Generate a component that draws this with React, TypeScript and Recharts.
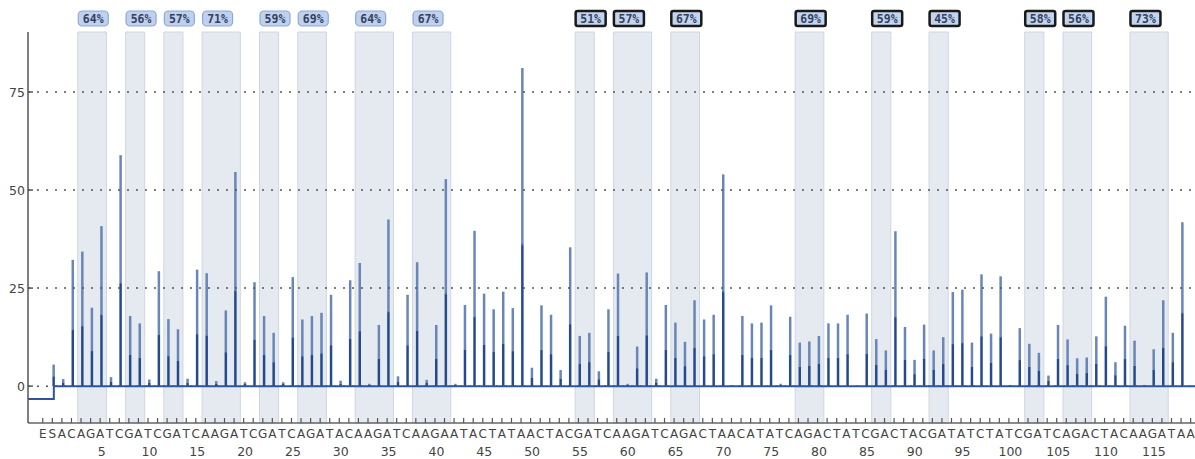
import { ComposedChart, Bar, Line, XAxis, YAxis, ReferenceArea, ReferenceLine } from 'recharts';

// dispensation order: E, S, then 119 nucleotide dispensations
const dispensationLetters = [
  'E', 'S',
  ...'ACAGATCGAT'.split(''),
  ...'CGATCAAGAT'.split(''),
  ...'CGATCAGATA'.split(''),
  ...'CAAGATCAAG'.split(''),
  ...'AATACTATAA'.split(''),
  ...'CTACGATCAA'.split(''),
  ...'GATCAGACTA'.split(''),
  ...'ACATATCAGA'.split(''),
  ...'CTATCGACTA'.split(''),
  ...'CGATATCTAT'.split(''),
  ...'CGATCAGACT'.split(''),
  ...'ACAAGATAA'.split(''),
];

// peak heights for S (0) and dispensations 1..119
const peakHeights = [
  5.5,
  1.8, 32.2, 34.3, 20.0, 40.8, 2.3, 58.9, 17.9, 16.0, 1.7,
  29.3, 17.1, 14.5, 1.9, 29.7, 28.8, 1.3, 19.3, 54.6, 1.0,
  26.5, 17.9, 13.6, 1.0, 27.8, 17.0, 17.9, 18.7, 23.3, 1.4,
  27.0, 31.4, 0.6, 15.6, 42.5, 2.5, 23.3, 31.6, 1.6, 15.6,
  52.8, 0.6, 20.7, 39.6, 23.6, 19.6, 24.1, 19.9, 81.1, 4.7,
  20.6, 18.2, 4.1, 35.4, 12.8, 13.6, 3.8, 19.6, 28.7, 0.6,
  10.1, 29.0, 1.9, 20.7, 16.2, 11.3, 21.9, 17.0, 18.2, 54.0,
  0.2, 17.9, 16.0, 16.2, 20.6, 0.6, 17.7, 11.1, 11.4, 12.8,
  16.0, 16.0, 18.2, 0.0, 18.5, 12.0, 9.1, 39.5, 15.1, 6.7,
  15.7, 9.1, 12.5, 24.0, 24.6, 11.1, 28.5, 13.4, 28.0, 0.3,
  14.8, 10.8, 8.5, 2.7, 15.6, 11.9, 7.1, 7.3, 12.7, 22.8,
  6.1, 15.4, 11.6, 0.3, 9.4, 21.9, 13.6, 41.8, 0.0,
];

// analysed positions (shaded), in dispensation units
const regionStarts = [2.5, 7.5, 11.5, 15.5, 21.5, 25.5, 31.5, 37.5, 54.5, 58.5, 64.5, 77.5, 85.5, 91.5, 101.5, 105.5, 112.5];
const regionEnds = [5.5, 9.5, 13.5, 19.5, 23.5, 28.5, 35.5, 41.5, 56.5, 62.5, 67.5, 80.5, 87.5, 93.5, 103.5, 108.5, 116.5];
const regionPercents = [64, 56, 57, 71, 59, 69, 64, 67, 51, 57, 67, 69, 59, 45, 58, 56, 73];
const regionFlagged = [false, false, false, false, false, false, false, false, true, true, true, true, true, true, true, true, true];

const yTicks = [0, 25, 50, 75];

// background trace level before/after the substrate step
const baseline = [
  { pos: -2.7, level: -3.3 },
  { pos: 0, level: 0 },
  { pos: 119.3, level: 0 },
];

const data = dispensationLetters.map((letter, i) => ({
  pos: i - 1,
  letter,
  height: i === 0 ? null : peakHeights[i - 1],
}));
const xTicks = data.map((d) => d.pos);

const FONT = '"DejaVu Sans", Verdana, sans-serif';

function DispensationTick(props: any) {
  const { x, y, payload } = props;
  const pos = payload.value;
  const letter = dispensationLetters[pos + 1];
  return (
    <g>
      <line x1={x - 1.5} x2={x - 1.5} y1={y - 5} y2={y} stroke="#555" strokeWidth={1.2} />
      <text x={x - 1.5} y={y + 15} textAnchor="middle" fontSize={12} fontFamily={FONT} fill="#444">
        {letter}
      </text>
      {pos > 0 && pos % 5 === 0 && (
        <text x={x} y={y + 33} textAnchor="middle" fontSize={12.5} fontFamily={FONT} fill="#444">
          {pos}
        </text>
      )}
    </g>
  );
}

function ValueTick(props: any) {
  const { x, y, payload } = props;
  return (
    <g>
      <line x1={x} x2={x + 5} y1={y} y2={y} stroke="#555" strokeWidth={1.5} />
      <text x={x - 3} y={y + 4.5} textAnchor="end" fontSize={12.5} fontFamily={FONT} fill="#444">
        {payload.value}
      </text>
    </g>
  );
}

function RegionTag(props: any) {
  const { viewBox, value, flagged } = props;
  const x = viewBox.x;
  const y = viewBox.y - 21;
  return (
    <g>
      <rect
        x={x + 0.5}
        y={y}
        width={30}
        height={15}
        rx={flagged ? 2 : 4}
        fill={flagged ? '#c3d4ee' : '#bfd1ee'}
        stroke={flagged ? '#1a1a1a' : '#8ea8d2'}
        strokeWidth={flagged ? 2.5 : 1.2}
      />
      <text
        x={x + 15.5}
        y={y + 11.5}
        textAnchor="middle"
        fontSize={11.5}
        fontWeight="bold"
        fontFamily='"DejaVu Sans Mono", monospace'
        fill="#33415e"
      >
        {value}%
      </text>
    </g>
  );
}

export default function App() {
  return (
    <div style={{ position: 'absolute', left: 0, top: 0, background: '#fff' }}>
      <ComposedChart
        width={1195}
        height={459}
        data={data}
        margin={{ top: 32, right: 0, bottom: 0, left: 0 }}
      >
        <defs>
          <linearGradient id="peakFill" x1="0" y1="0" x2="0" y2="1">
            <stop offset="0" stopColor="#6886b8" />
            <stop offset="0.55" stopColor="#6886b8" />
            <stop offset="0.56" stopColor="#224a8d" />
            <stop offset="1" stopColor="#224a8d" />
          </linearGradient>
        </defs>
        <XAxis
          dataKey="pos"
          type="number"
          domain={[-2.7, 119.3]}
          ticks={xTicks}
          interval={0}
          height={36}
          tickSize={0}
          tickMargin={0}
          tickLine={false}
          tick={<DispensationTick />}
          axisLine={{ stroke: '#666', strokeWidth: 1.5 }}
          allowDataOverflow
        />
        <YAxis
          type="number"
          domain={[-9.4, 90.3]}
          ticks={yTicks}
          width={28}
          tickSize={0}
          tickMargin={0}
          tickLine={false}
          tick={<ValueTick />}
          axisLine={{ stroke: '#555', strokeWidth: 1.5 }}
          allowDataOverflow
        />
        {regionStarts.map((start, i) => (
          <ReferenceArea
            key={`r${i}`}
            x1={start}
            x2={regionEnds[i]}
            fill="#e5eaf1"
            fillOpacity={1}
            stroke="#d0d6df"
            strokeWidth={1}
            label={<RegionTag value={regionPercents[i]} flagged={regionFlagged[i]} />}
          />
        ))}
        {yTicks.map((v) => (
          <ReferenceLine key={`g${v}`} y={v} stroke="#555" strokeWidth={1.5} strokeDasharray="2 7" />
        ))}
        <Line
          data={baseline}
          dataKey="level"
          type="stepAfter"
          dot={false}
          stroke="#2f5596"
          strokeWidth={2}
          isAnimationActive={false}
        />
        <Bar dataKey="height" barSize={2.5} fill="url(#peakFill)" isAnimationActive={false} />
      </ComposedChart>
    </div>
  );
}
